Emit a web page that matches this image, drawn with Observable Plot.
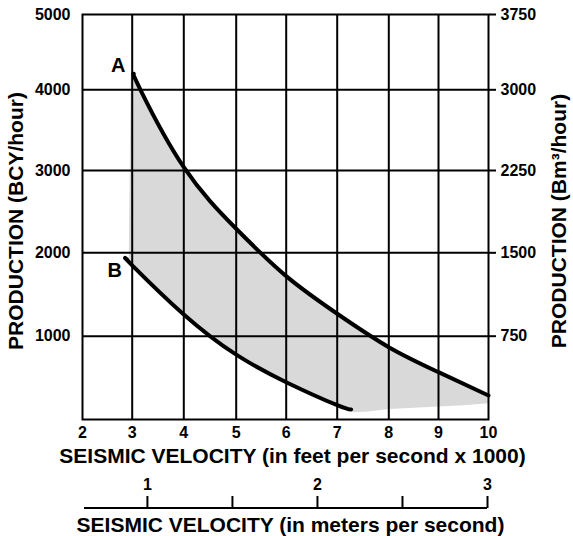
<!DOCTYPE html>
<html>
<head>
<meta charset="utf-8">
<script src="https://cdn.jsdelivr.net/npm/d3@7"></script>
<script src="https://cdn.jsdelivr.net/npm/@observablehq/plot@0.6"></script>
<style>
  html, body { margin: 0; padding: 0; background: #fff; }
  #chart svg { display: block; }
</style>
</head>
<body>
<div id="chart"></div>
<script>
// ---- data ----
const xTicks = [2, 3, 4, 5, 6, 7, 8, 9, 10];              // ft/s x 1000
const yTicks = [1000, 2000, 3000, 4000, 5000];             // BCY/hour
const rightTickLabels = ["750", "1500", "2250", "3000", "3750"]; // Bm³/hour
const meterTicks = [1, 1.5, 2, 2.5, 3];
const meterDomain = [0.63, 3];

// curve A (upper)
const curveAX = [3.03, 3.16, 4, 5, 6, 7, 8, 9, 10];
const curveAY = [4212, 4000, 3041, 2292, 1720, 1269, 868, 568, 288];
// curve B (lower)
const curveBX = [2.9, 3, 4, 5, 6, 7, 7.27];
const curveBY = [1916, 1850, 1260, 778, 448, 172, 121];
// lower edge of the shaded band beyond the end of curve B
const tailX = [10, 9.5, 9, 8.5, 8, 7.6, 7.3];
const tailY = [195, 170, 155, 140, 125, 95, 88];
// left edge of the shaded band
const leftX = [2.93, 2.95, 2.97];
const leftY = [1920, 3000, 4212];

const labels = ["A", "B"];
const labelX = [2.72, 2.65];
const labelY = [4323, 1788];

// ---- build tables ----
const A = curveAX.map((x, i) => ({x, y: curveAY[i]}));
const B = curveBX.map((x, i) => ({x, y: curveBY[i]}));
const shade = [
  ...A,
  ...tailX.map((x, i) => ({x, y: tailY[i]})),
  ...B.slice().reverse(),
  ...leftX.map((x, i) => ({x, y: leftY[i]}))
];
const lab = labels.map((t, i) => ({t, x: labelX[i], y: labelY[i]}));

const font = "'Liberation Sans', Arial, Helvetica, sans-serif";
const titleSize = 21;
const tickSize = 16;

const main = Plot.plot({
  width: 573,
  height: 466,
  marginLeft: 82,
  marginRight: 85,
  marginTop: 14,
  marginBottom: 47,
  style: {fontFamily: font, fontWeight: "bold", fontSize: tickSize + "px", color: "black", background: "white", overflow: "visible"},
  x: {type: "linear", domain: xTicks, range: [82, 131.7, 183.3, 235.7, 285.7, 336.7, 388.3, 438, 488]},
  y: {type: "linear", domain: [0, ...yTicks], range: [419, 335.7, 252.3, 170, 89.3, 14]},
  marks: [
    Plot.line(shade, {x: "x", y: "y", fill: "#d9d9d9", stroke: "none"}),
    Plot.gridX({ticks: xTicks.slice(1, -1), stroke: "black", strokeOpacity: 1, strokeWidth: 2}),
    Plot.gridY({ticks: yTicks.slice(0, -1), stroke: "black", strokeOpacity: 1, strokeWidth: 2}),
    Plot.frame({stroke: "black", strokeWidth: 2}),
    Plot.line(A, {x: "x", y: "y", curve: "natural", stroke: "black", strokeWidth: 4}),
    Plot.line(B, {x: "x", y: "y", curve: "natural", stroke: "black", strokeWidth: 4}),
    Plot.text(lab, {x: "x", y: "y", text: "t", fontSize: 20, fontWeight: "bold", fill: "black"}),
    Plot.axisX({ticks: xTicks, tickSize: 0, tickPadding: 7, tickFormat: d => String(d), label: null, fontSize: tickSize}),
    Plot.axisY({ticks: yTicks, tickSize: 0, tickPadding: 12, tickFormat: d => String(d), label: null, fontSize: tickSize}),
    Plot.axisY({anchor: "right", ticks: yTicks, tickFormat: (d, i) => rightTickLabels[i],
                tickSize: 7, tickPadding: 5, strokeWidth: 2, label: null, fontSize: tickSize}),
    Plot.text(["SEISMIC VELOCITY (in feet per second x 1000)"],
              {frameAnchor: "bottom", lineAnchor: "middle", textAnchor: "middle", dx: 7, dy: 37, fontSize: titleSize, fontWeight: "bold"}),
    Plot.text(["PRODUCTION (BCY/hour)"],
              {frameAnchor: "left", lineAnchor: "middle", textAnchor: "middle", dx: -66, dy: 4, rotate: -90, fontSize: titleSize, fontWeight: "bold"}),
    Plot.text(["PRODUCTION (Bm³/hour)"],
              {frameAnchor: "right", lineAnchor: "middle", textAnchor: "middle", dx: 71, dy: 4, rotate: -90, fontSize: titleSize, fontWeight: "bold"})
  ]
});

const meters = Plot.plot({
  width: 573,
  height: 70,
  marginLeft: 84,
  marginRight: 86,
  marginTop: 41,
  marginBottom: 28,
  style: {fontFamily: font, fontWeight: "bold", fontSize: tickSize + "px", color: "black", background: "white", overflow: "visible"},
  x: {type: "linear", domain: meterDomain},
  y: {axis: null},
  marks: [
    Plot.ruleY([0], {stroke: "black", strokeWidth: 2}),
    Plot.axisX({anchor: "top", ticks: meterTicks, tickFormat: d => Number.isInteger(d) ? String(d) : "",
                tickSize: 12, tickPadding: 6, strokeWidth: 2, label: null, fontSize: tickSize}),
    Plot.text(["SEISMIC VELOCITY (in meters per second)"],
              {frameAnchor: "top", lineAnchor: "middle", textAnchor: "middle", dx: 4.5, dy: 18, fontSize: titleSize, fontWeight: "bold"})
  ]
});

document.getElementById("chart").append(main, meters);
</script>
</body>
</html>
